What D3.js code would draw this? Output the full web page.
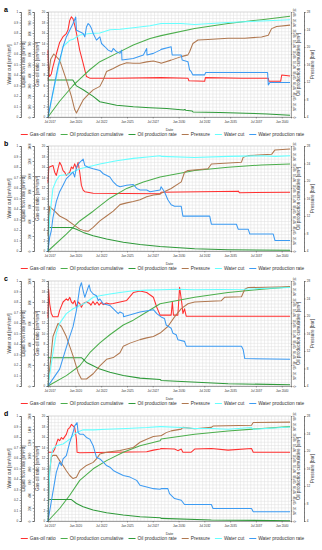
<!DOCTYPE html>
<html>
<head>
<meta charset="utf-8">
<script src="https://cdn.jsdelivr.net/npm/d3@7"></script>
<style>
body { margin: 0; background: #fff; }
svg { font-family: "Liberation Sans", Arial, sans-serif; }
</style>
</head>
<body>
<svg id="chart" width="322" height="550"></svg>
<script>
// ---- data (decimal year, value) ----
const panelNames = ["a", "b", "c", "d"];
const seriesNames = ["Gas-oil ratio", "Oil production cumulative", "Oil production rate", "Pressure", "Water cut", "Water production rate"];
const seriesColors = ["#ff3030", "#4cae4c", "#2f9a3a", "#b07850", "#66ffff", "#3d9bf2"];
const xTickLabels = ["2017-07", "2020-01", "2022-07", "2025-01", "2027-07", "2030-01", "2032-07", "2035-01", "2037-07", "2040-01"];
const dateRange = [2017.34, 2040.9];

const waterCutTicks = [0, 0.1, 0.2, 0.3, 0.4, 0.5, 0.6, 0.7, 0.8, 0.9, 1];
const gorTicks = [0, 2, 4, 6, 8, 10, 12, 14, 16, 18, 20];
const pressureTicks = [4, 8, 12, 16, 20, 24, 28];
const cumTicks = [0, 2e5, 4e5, 6e5, 8e5, 1e6, 1.2e6, 1.4e6, 1.6e6, 1.8e6, 2e6];
const liquidMax = [1000, 1400, 1000, 1600];
const liquidStep = [100, 200, 200, 200];

// panel a
const gorA = [[2017.34,12.7],[2017.40,8.5],[2017.50,7.7],[2017.66,8.2],[2017.82,9.6],[2018.15,12.0],[2018.47,14.2],[2018.80,15.3],[2018.96,15.6],[2019.12,15.9],[2019.28,16.6],[2019.45,18.4],[2019.61,19.1],[2019.77,18.7],[2019.93,17.5],[2020.10,16.0],[2020.42,12.7],[2020.75,10.2],[2021.07,7.7],[2021.39,7.4],[2024.0,7.4],[2028.31,7.5],[2030.91,7.4],[2031.0,6.9],[2032.53,6.8],[2032.6,7.5],[2036.1,7.4],[2038.70,7.4],[2038.76,6.8],[2039.9,6.8],[2040.0,8.0],[2040.81,7.8]];
const cumA = [[2017.34,0],[2018.47,300000],[2019.77,600000],[2020.42,720000],[2021.39,900000],[2022.37,1054000],[2023.99,1212000],[2025.61,1370000],[2027.24,1496000],[2028.31,1550000],[2031.56,1684000],[2034.8,1780000],[2038.05,1854000],[2040.81,1918000]];
const oprA = [[2017.34,353],[2019.75,353],[2020.10,296],[2020.75,259],[2021.72,196],[2022.37,145],[2023.99,112],[2025.61,98],[2027.24,88],[2028.86,80],[2030.5,66],[2030.6,72],[2030.7,64],[2031.3,58],[2031.4,48],[2034.0,42],[2036.5,36],[2038.6,29],[2040.81,17]];
const presA = [[2017.34,12.4],[2017.6,17.2],[2017.9,18.4],[2018.47,17.0],[2019.12,12.5],[2019.61,8.7],[2019.93,5.7],[2020.10,4.9],[2020.42,6.4],[2020.75,7.9],[2021.23,9.1],[2021.72,10.2],[2022.37,11.0],[2022.70,12.5],[2023.02,14.4],[2023.67,15.1],[2023.99,15.5],[2024.32,15.9],[2024.97,16.4],[2025.61,16.3],[2026.26,16.3],[2026.91,16.6],[2027.56,16.8],[2028.21,16.4],[2028.31,16.3],[2029.28,17.0],[2029.77,17.4],[2030.26,17.8],[2030.91,18.2],[2031.07,18.9],[2031.39,20.8],[2031.88,21.6],[2032.85,21.7],[2034.80,22.0],[2036.42,22.0],[2038.05,22.3],[2038.70,22.7],[2039.02,24.2],[2039.51,24.7],[2040.81,25.0]];
const wcA = [[2017.34,0],[2018.07,0.34],[2018.80,0.67],[2019.12,0.70],[2019.45,0.73],[2019.77,0.74],[2020.42,0.78],[2021.39,0.795],[2022.37,0.80],[2023.34,0.83],[2024.32,0.835],[2025.61,0.85],[2027.24,0.87],[2028.31,0.89],[2030.26,0.89],[2031.56,0.88],[2034.8,0.90],[2038.05,0.915],[2040.81,0.927]];
const wprA = [[2017.34,0],[2018.31,480],[2018.80,669],[2019.12,763],[2019.45,826],[2019.77,890],[2020.03,953],[2020.10,826],[2020.42,811],[2020.75,795],[2020.91,763],[2021.07,858],[2021.23,890],[2021.39,874],[2021.56,842],[2021.72,795],[2022.04,732],[2022.37,763],[2022.53,700],[2022.86,669],[2023.18,637],[2023.51,621],[2023.67,653],[2023.99,621],[2024.32,606],[2024.48,637],[2024.51,543],[2025.61,558],[2026.59,590],[2026.91,653],[2026.94,590],[2027.56,606],[2028.21,637],[2028.31,644],[2029.28,669],[2029.38,590],[2030.26,590],[2030.35,543],[2030.91,527],[2031.07,448],[2031.23,432],[2031.39,401],[2032.53,401],[2032.63,423],[2038.63,423],[2038.70,306],[2038.86,328],[2040.81,328]];

// panel b
const gorB = [[2017.34,13.0],[2017.42,16.0],[2017.50,16.0],[2017.82,16.3],[2017.99,15.0],[2018.15,14.4],[2018.31,15.7],[2018.47,16.9],[2018.64,16.3],[2018.80,15.3],[2018.96,15.0],[2019.12,14.4],[2019.45,15.0],[2019.61,16.0],[2019.77,15.7],[2019.93,16.6],[2020.10,15.7],[2020.26,16.9],[2020.42,15.0],[2020.58,12.5],[2020.75,11.6],[2020.91,11.3],[2021.72,11.0],[2028.21,10.9],[2028.31,11.2],[2035.8,11.4],[2035.9,11.1],[2040.81,11.2]];
const cumB = [[2017.34,0],[2019.12,322000],[2020.42,572000],[2021.72,758000],[2023.34,1006000],[2024.97,1192000],[2026.59,1316000],[2028.21,1410000],[2031.56,1534000],[2034.8,1596000],[2038.05,1640000],[2040.81,1658000]];
const oprB = [[2017.34,313],[2019.61,313],[2020.10,291],[2020.75,248],[2021.72,204],[2023.02,161],[2024.64,118],[2026.26,87],[2028.21,61],[2031.56,30],[2034.8,17],[2040.81,9]];
const presB = [[2017.34,7.6],[2017.50,14.2],[2017.66,13.8],[2017.99,13.1],[2018.47,12.0],[2019.12,11.2],[2019.77,10.1],[2020.42,9.0],[2020.91,8.6],[2021.23,8.5],[2021.72,9.4],[2022.37,10.9],[2023.02,12.0],[2023.67,13.1],[2024.32,14.6],[2024.97,15.0],[2025.61,15.3],[2026.26,15.7],[2026.91,16.4],[2027.56,16.8],[2028.21,17.0],[2028.31,17.2],[2029.28,18.3],[2030.26,19.8],[2030.58,22.0],[2030.91,22.4],[2032.85,22.8],[2033.18,23.9],[2036.10,24.3],[2036.26,25.4],[2036.75,25.8],[2039.02,26.1],[2039.35,27.1],[2040.81,27.3]];
const wcB = [[2017.34,0],[2017.50,0.317],[2017.82,0.596],[2018.15,0.674],[2018.47,0.720],[2019.12,0.727],[2019.77,0.752],[2020.42,0.783],[2021.07,0.798],[2022.37,0.829],[2023.99,0.860],[2025.61,0.882],[2027.24,0.898],[2028.21,0.907],[2028.31,0.901],[2031.56,0.891],[2034.8,0.901],[2038.05,0.907],[2039.35,0.901],[2040.81,0.907]];
const wprB = [[2017.34,0],[2017.50,182],[2017.66,270],[2017.82,444],[2018.15,661],[2018.47,791],[2018.80,878],[2019.12,965],[2019.45,1008],[2019.77,1052],[2019.93,987],[2020.10,1117],[2020.42,1183],[2020.75,1226],[2020.91,1139],[2021.23,1117],[2021.72,1096],[2022.37,1074],[2022.70,1030],[2023.34,987],[2023.67,921],[2023.99,878],[2024.32,857],[2024.97,878],[2025.61,887],[2025.94,835],[2026.26,813],[2026.91,813],[2027.24,791],[2028.21,813],[2028.31,857],[2028.63,791],[2028.96,683],[2029.28,617],[2029.61,596],[2030.26,596],[2030.42,465],[2033.02,465],[2033.18,357],[2035.61,357],[2035.78,291],[2036.75,291],[2036.91,226],[2039.18,226],[2039.35,139],[2040.81,139]];

// panel c
const gorC = [[2017.34,13.0],[2017.40,18.4],[2017.50,15.7],[2017.66,13.8],[2017.82,13.2],[2018.31,13.2],[2018.47,14.4],[2018.80,16.0],[2019.12,16.6],[2019.28,16.3],[2019.45,16.9],[2019.61,16.0],[2019.77,15.7],[2019.93,16.3],[2020.10,15.0],[2020.26,16.0],[2020.42,15.7],[2020.58,15.0],[2020.75,15.7],[2021.07,16.0],[2021.39,15.7],[2021.5,15.4],[2021.7,16.1],[2021.9,15.5],[2022.1,16.0],[2022.3,15.4],[2022.5,15.9],[2022.7,15.5],[2023.0,15.8],[2023.34,15.6],[2023.67,15.7],[2024.32,16.0],[2024.97,16.3],[2025.61,17.8],[2026.26,18.1],[2026.91,17.8],[2027.56,16.9],[2027.89,15.0],[2028.21,13.5],[2029.28,13.5],[2029.40,16.0],[2029.50,13.5],[2029.93,13.5],[2030.10,18.8],[2030.32,15.7],[2030.42,13.8],[2030.58,14.7],[2030.74,13.3],[2040.81,13.3]];
const cumC = [[2017.34,0],[2019.12,198000],[2020.42,386000],[2021.39,634000],[2022.37,820000],[2023.34,976000],[2024.64,1162000],[2025.61,1254000],[2026.91,1410000],[2028.21,1566000],[2031.56,1690000],[2034.8,1782000],[2038.05,1844000],[2040.81,1888000]];
const oprC = [[2017.34,270],[2020.58,270],[2020.75,255],[2021.07,224],[2021.72,193],[2022.37,161],[2023.34,130],[2024.64,99],[2026.26,75],[2028.21,62],[2028.31,53],[2034.8,22],[2040.81,12]];
const presC = [[2017.34,4.0],[2017.82,15.3],[2018.31,18.3],[2018.64,17.6],[2019.12,15.3],[2019.77,10.9],[2020.26,7.1],[2020.58,5.6],[2021.07,5.6],[2021.72,6.8],[2022.37,8.6],[2023.02,10.1],[2023.67,10.5],[2024.32,11.6],[2024.64,13.1],[2025.29,13.8],[2026.26,14.6],[2026.91,15.0],[2027.56,15.3],[2028.21,16.1],[2028.96,17.6],[2029.61,19.8],[2030.26,21.7],[2030.91,22.8],[2031.56,23.2],[2034.15,23.5],[2034.48,24.3],[2036.10,24.4],[2036.42,26.1],[2036.75,26.5],[2040.81,26.7]];
const wcC = [[2017.34,0],[2017.82,0.317],[2018.15,0.503],[2018.47,0.596],[2019.12,0.689],[2019.77,0.736],[2020.42,0.767],[2021.07,0.798],[2021.72,0.845],[2022.37,0.860],[2023.34,0.876],[2024.32,0.891],[2025.61,0.907],[2026.91,0.913],[2028.21,0.916],[2029.93,0.922],[2031.56,0.916],[2036.42,0.922],[2040.81,0.938]];
const wprC = [[2017.34,0],[2017.82,68],[2018.47,161],[2018.96,317],[2019.45,472],[2019.77,565],[2020.10,720],[2020.42,938],[2020.58,984],[2020.75,907],[2020.91,845],[2021.07,891],[2021.23,938],[2021.33,963],[2021.46,907],[2021.72,876],[2022.04,860],[2022.21,814],[2022.37,829],[2022.70,783],[2023.34,767],[2023.83,720],[2024.15,689],[2024.32,705],[2024.64,689],[2024.66,660],[2026.26,705],[2027.56,727],[2027.89,689],[2028.21,665],[2028.31,658],[2028.63,643],[2028.80,581],[2029.28,550],[2029.45,503],[2029.77,488],[2029.93,441],[2030.58,425],[2030.74,379],[2036.10,379],[2036.26,348],[2036.42,261],[2040.81,255]];

// panel d
const gorD = [[2017.34,13.1],[2017.82,13.1],[2017.99,13.7],[2018.15,14.7],[2018.31,15.6],[2018.47,15.3],[2018.64,15.9],[2018.80,15.6],[2019.12,16.5],[2019.28,17.5],[2019.45,17.8],[2019.61,18.4],[2019.77,18.1],[2019.93,17.8],[2020.10,15.6],[2020.16,13.1],[2020.42,13.0],[2026.91,13.2],[2027.56,13.5],[2028.21,13.7],[2028.31,13.8],[2029.61,13.7],[2029.93,13.4],[2030.26,13.7],[2030.42,13.1],[2031.23,13.1],[2031.56,13.7],[2033.18,13.8],[2034.80,13.5],[2037.07,13.8],[2037.24,13.1],[2040.81,13.1]];
const cumD = [[2017.34,0],[2018.47,238000],[2019.45,490000],[2020.42,774000],[2021.72,994000],[2023.02,1150000],[2024.64,1308000],[2026.26,1434000],[2028.21,1528000],[2028.31,1560000],[2031.56,1654000],[2034.8,1716000],[2038.05,1762000],[2040.81,1798000]];
const oprD = [[2017.34,327],[2019.61,327],[2020.10,267],[2020.75,216],[2021.72,166],[2023.02,126],[2024.64,91],[2026.26,65],[2028.21,50],[2028.31,40],[2033.18,15],[2040.81,5]];
const presD = [[2017.34,4.0],[2017.50,15.2],[2017.66,18.6],[2017.82,19.0],[2018.15,19.0],[2018.47,17.8],[2018.80,16.7],[2019.12,15.5],[2019.45,14.4],[2019.77,13.7],[2020.10,14.0],[2020.42,15.5],[2021.07,16.7],[2021.72,17.4],[2022.04,18.2],[2022.37,19.3],[2023.02,19.7],[2024.32,20.1],[2025.61,20.8],[2026.26,22.0],[2026.91,22.7],[2027.56,23.3],[2028.21,23.5],[2028.31,23.5],[2028.80,24.2],[2029.28,24.6],[2030.26,25.0],[2030.42,25.4],[2031.56,25.1],[2033.18,25.4],[2033.34,25.7],[2037.07,25.9],[2037.24,26.5],[2040.81,26.6]];
const wcD = [[2017.34,0],[2017.50,0.465],[2017.66,0.623],[2017.82,0.686],[2018.15,0.717],[2018.80,0.733],[2019.45,0.780],[2020.10,0.843],[2020.75,0.868],[2021.72,0.868],[2023.02,0.874],[2024.97,0.881],[2026.91,0.890],[2028.21,0.899],[2028.31,0.899],[2030.26,0.890],[2031.56,0.881],[2033.18,0.881],[2034.80,0.874],[2037.07,0.890],[2037.24,0.874],[2040.81,0.896]];
const wprD = [[2017.34,0],[2017.82,443],[2018.15,744],[2018.31,820],[2018.47,896],[2018.64,845],[2018.80,946],[2019.12,996],[2019.28,1097],[2019.45,1197],[2019.77,1348],[2019.93,1449],[2020.16,1499],[2020.26,1348],[2020.42,1323],[2020.75,1323],[2021.07,1273],[2021.39,1248],[2021.72,1147],[2022.04,971],[2022.37,946],[2022.70,896],[2023.02,845],[2023.34,820],[2023.67,770],[2023.99,744],[2024.64,694],[2025.29,669],[2025.94,619],[2026.26,544],[2026.91,518],[2027.56,493],[2028.21,483],[2028.31,493],[2028.96,493],[2029.12,418],[2029.61,342],[2030.26,317],[2030.58,252],[2033.18,252],[2033.34,191],[2037.07,191],[2037.24,141],[2040.81,141]];

const panels = [
	[gorA, cumA, oprA, presA, wcA, wprA],
	[gorB, cumB, oprB, presB, wcB, wprB],
	[gorC, cumC, oprC, presC, wcC, wprC],
	[gorD, cumD, oprD, presD, wcD, wprD]
];
// which scale each series uses
const seriesScale = ["gor", "cum", "liq", "pres", "wc", "liq"];

function yd(y) {
	const yr = Math.floor(y);
	const t0 = new Date(yr, 0, 1), t1 = new Date(yr + 1, 0, 1);
	return new Date(+t0 + (y - yr) * (t1 - t0));
}

// ---- layout ----
const L = 48, R = 291;
const bases = [0, 134, 269, 404];
const svg = d3.select("#chart");

const x = d3.scaleTime().domain(dateRange.map(yd)).range([L, R]);
const xTicks = xTickLabels.map(s => d3.timeParse("%Y-%m")(s));
const gridDates = d3.timeMonth.every(4).range(yd(2017), yd(2041));

function styleAxis(g, fs) {
	g.selectAll("path, line").attr("stroke", "#555").attr("stroke-width", 0.5);
	g.selectAll("text").attr("font-size", fs).attr("fill", "#333");
}

panels.forEach((series, i) => {
	const base = bases[i];
	const top = base + 12, bot = base + 117;
	const g = svg.append("g");

	const scales = {
		gor: d3.scaleLinear().domain([0, 20]).range([bot, top]),
		wc: d3.scaleLinear().domain([0, 1]).range([bot, top]),
		liq: d3.scaleLinear().domain([0, liquidMax[i]]).range([bot, top]),
		cum: d3.scaleLinear().domain([0, 2e6]).range([bot, top]),
		pres: d3.scaleLinear().domain([4, 28]).range([bot, top])
	};

	// grid
	g.append("g").selectAll("line").data(gridDates.filter(d => d >= x.domain()[0] && d <= x.domain()[1]))
		.enter().append("line")
		.attr("x1", d => x(d)).attr("x2", d => x(d))
		.attr("y1", top).attr("y2", bot)
		.attr("stroke", "#dedede").attr("stroke-width", 0.5);
	g.append("g").selectAll("line").data(d3.range(0, 20.01, 0.625))
		.enter().append("line")
		.attr("x1", L).attr("x2", R)
		.attr("y1", d => scales.gor(d)).attr("y2", d => scales.gor(d))
		.attr("stroke", "#dedede").attr("stroke-width", 0.5);
	g.append("rect").attr("x", L).attr("y", top).attr("width", R - L).attr("height", bot - top)
		.attr("fill", "none").attr("stroke", "#c8c8c8").attr("stroke-width", 0.5);

	// lines
	series.forEach((data, k) => {
		const ys = scales[seriesScale[k]];
		const line = d3.line().x(d => x(yd(d[0]))).y(d => ys(d[1]));
		g.append("path").datum(data)
			.attr("d", line)
			.attr("fill", "none")
			.attr("stroke", seriesColors[k])
			.attr("stroke-width", 1.05)
			.attr("stroke-linejoin", "round");
	});

	// x axis
	const xa = g.append("g").attr("transform", `translate(0,${bot})`)
		.call(d3.axisBottom(x).tickValues(xTicks).tickFormat(d3.timeFormat("%b %Y")).tickSize(1.5).tickPadding(2.5));
	styleAxis(xa, 3);
	g.append("text").attr("x", (L + R) / 2).attr("y", base + 130.5)
		.attr("text-anchor", "middle").attr("font-size", 3.6).attr("fill", "#333").text("Date");

	// left axes: gas-oil ratio, liquid rate, water cut
	const leftAxes = [
		{ x: L, s: scales.gor, ticks: gorTicks, minor: d3.range(0, 20.01, 0.5), fmt: d => d, title: "Gas-oil ratio [sm³/sm³]", tx: 39, rot: false },
		{ x: 34, s: scales.liq, ticks: d3.range(0, liquidMax[i] + 1, liquidStep[i]), minor: d3.range(0, liquidMax[i] + 1, liquidStep[i] / 4), fmt: d => d, title: "Liquid flow rate [sm³/d]", tx: 25, rot: true },
		{ x: 21, s: scales.wc, ticks: waterCutTicks, minor: d3.range(0, 1.001, 0.025), fmt: d => d, title: "Water cut [sm³/sm³]", tx: 10.5, rot: false }
	];
	leftAxes.forEach(a => {
		const mg = g.append("g").attr("transform", `translate(${a.x},0)`)
			.call(d3.axisLeft(a.s).tickValues(a.minor).tickSize(0.8).tickFormat(""));
		styleAxis(mg, 3);
		const ag = g.append("g").attr("transform", `translate(${a.x},0)`)
			.call(d3.axisLeft(a.s).tickValues(a.ticks).tickSize(1.6).tickPadding(1.2).tickFormat(a.fmt));
		styleAxis(ag, 3);
		if (a.rot) {
			ag.selectAll(".tick text").attr("x", 0).attr("dy", 0)
				.attr("text-anchor", "middle").attr("transform", "translate(-3,0) rotate(-90)");
		}
		g.append("text").attr("transform", `translate(${a.tx},${(top + bot) / 2}) rotate(-90)`)
			.attr("text-anchor", "middle").attr("font-size", 4.6).attr("fill", "#333").text(a.title);
	});

	// right axes: cumulative, pressure
	const cg = g.append("g").attr("transform", `translate(${R},0)`)
		.call(d3.axisRight(scales.cum).tickValues(cumTicks).tickSize(1.2)
			.tickFormat(d => d === 0 ? "0" : d3.format(".0e")(d).replace("e+", "E+0")));
	styleAxis(cg, 2.8);
	cg.selectAll(".tick text").attr("x", 0).attr("dy", 0)
		.attr("text-anchor", "middle").attr("transform", "translate(2.2,0) rotate(90)");
	g.append("text").attr("transform", `translate(${R + 9},${(top + bot) / 2}) rotate(-90)`)
		.attr("text-anchor", "middle").attr("font-size", 4.6).attr("fill", "#333").text("Oil production cumulative [sm³]");

	const pm = g.append("g").attr("transform", `translate(304,0)`)
		.call(d3.axisRight(scales.pres).tickValues(d3.range(4, 28.01, 1)).tickSize(0.8).tickFormat(""));
	styleAxis(pm, 3);
	const pg = g.append("g").attr("transform", `translate(304,0)`)
		.call(d3.axisRight(scales.pres).tickValues(pressureTicks).tickSize(1.6).tickPadding(1.2));
	styleAxis(pg, 3);
	g.append("text").attr("transform", `translate(314,${(top + bot) / 2}) rotate(-90)`)
		.attr("text-anchor", "middle").attr("font-size", 4.6).attr("fill", "#333").text("Pressure [bar]");

	// panel letter
	g.append("text").attr("x", 4).attr("y", base + 12).attr("font-size", 7).attr("font-weight", "bold").text(panelNames[i]);

	// legend
	const leg = g.append("g");
	let cx = 0;
	seriesNames.forEach((name, k) => {
		const it = leg.append("g");
		it.append("line").attr("x1", 0).attr("x2", 7).attr("y1", 0).attr("y2", 0)
			.attr("stroke", seriesColors[k]).attr("stroke-width", 1);
		const t = it.append("text").attr("x", 9).attr("y", 1.6).attr("font-size", 4.8).attr("fill", "#333").text(name);
		const w = 9 + t.node().getComputedTextLength();
		it.attr("transform", `translate(${cx},0)`);
		cx += w + 5;
	});
	const totalW = cx - 5;
	leg.attr("transform", `translate(${162.5 - totalW / 2},${base + 134.5})`);
});
</script>
</body>
</html>
